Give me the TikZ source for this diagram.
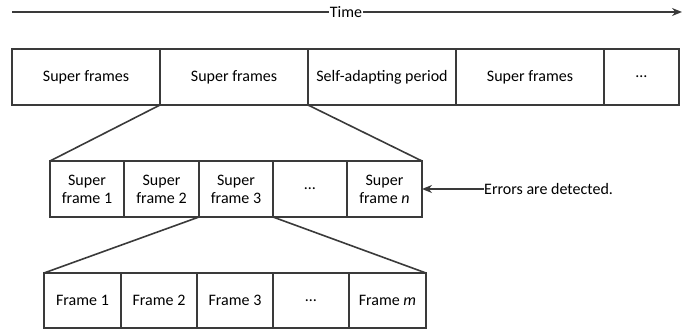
\documentclass[tikz,border=0pt]{standalone}
\usepackage{fontspec}
\setmainfont{Carlito}
\usetikzlibrary{arrows.meta}
\definecolor{ln}{HTML}{3A3A3A}
\tikzset{
  cell/.style={draw=ln, line width=1.6pt, inner sep=0pt, outer sep=0pt, align=center,
    font=\fontsize{16}{18}\selectfont},
  topcell/.style={cell, minimum height=56pt},
  midcell/.style={cell, minimum height=56pt},
  botcell/.style={cell, minimum height=55pt},
  zoomline/.style={draw=ln, line width=1.6pt},
  arr/.style={draw=ln, line width=1.6pt, -{Stealth[length=10pt,width=8pt]}},
  lbl/.style={inner sep=1pt, font=\fontsize{16}{18}\selectfont, fill=white}
}
\begin{document}
\begin{tikzpicture}[x=1pt,y=-1pt]
\useasboundingbox (0,0) rectangle (691,329);
% time arrow
\coordinate (t0) at (12,12);
\coordinate (t1) at (682,12);
\node[lbl] (time) at (346,12) {Time};
\draw[zoomline] (t0) -- (time.west);
\draw[arr] (time.east) -- (t1);
% top row
\node[topcell, minimum width=148pt] (a1) at (86,77) {Super frames};
\node[topcell, minimum width=148pt] (a2) at (234,77) {Super frames};
\node[topcell, minimum width=148pt] (a3) at (382,77) {Self-adapting period};
\node[topcell, minimum width=148pt] (a4) at (530,77) {Super frames};
\node[topcell, minimum width=75pt] (a5) at (641.5,77) {\dots};
% middle row
\node[midcell, minimum width=74pt] (b1) at (87,189) {Super\\frame 1};
\node[midcell, minimum width=75pt] (b2) at (161.5,189) {Super\\frame 2};
\node[midcell, minimum width=74pt] (b3) at (236,189) {Super\\frame 3};
\node[midcell, minimum width=74pt] (b4) at (310,189) {\dots};
\node[midcell, minimum width=75pt] (b5) at (384.5,189) {Super\\frame \textit{n}};
% bottom row
\node[botcell, minimum width=77pt] (c1) at (82.5,300.5) {Frame 1};
\node[botcell, minimum width=76pt] (c2) at (159,300.5) {Frame 2};
\node[botcell, minimum width=76pt] (c3) at (235,300.5) {Frame 3};
\node[botcell, minimum width=76pt] (c4) at (311,300.5) {\dots};
\node[botcell, minimum width=77pt] (c5) at (387.5,300.5) {Frame \textit{m}};
% zoom lines
\draw[zoomline] (a2.south west) -- (b1.north west);
\draw[zoomline] (a2.south east) -- (b5.north east);
\draw[zoomline] (b3.south west) -- (c1.north west);
\draw[zoomline] (b3.south east) -- (c5.north east);
% errors
\node[lbl, anchor=west, inner sep=0pt] (err) at (484,189) {Errors are detected.};
\draw[arr] (err.west) -- (err.west -| b5.east);
\end{tikzpicture}
\end{document}
